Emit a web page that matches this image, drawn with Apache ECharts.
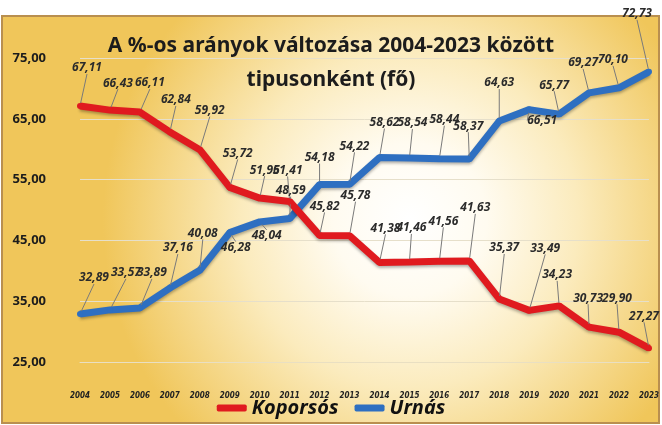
<!DOCTYPE html>
<html>
<head>
<meta charset="utf-8">
<script src="https://cdn.jsdelivr.net/npm/echarts@6/dist/echarts.min.js"></script>
<style>
  html, body { margin: 0; padding: 0; background: #fff; }
  #chart { width: 662px; height: 425px; }
</style>
</head>
<body>
<div id="chart"></div>
<script>
// évek és a két típus aránya (%)
const years = ['2004', '2005', '2006', '2007', '2008', '2009', '2010', '2011', '2012', '2013',
               '2014', '2015', '2016', '2017', '2018', '2019', '2020', '2021', '2022', '2023'];
const koporsos = [67.11, 66.43, 66.11, 62.84, 59.92, 53.72, 51.96, 51.41, 45.82, 45.78,
                  41.38, 41.46, 41.56, 41.63, 35.37, 33.49, 34.23, 30.73, 29.90, 27.27];
const urnas = [32.89, 33.57, 33.89, 37.16, 40.08, 46.28, 48.04, 48.59, 54.18, 54.22,
               58.62, 58.54, 58.44, 58.37, 64.63, 66.51, 65.77, 69.27, 70.10, 72.73];
const yTicks = [25, 35, 45, 55, 65, 75];

// címkék eltolása a pont fölötti alaphelyzethez képest [dx, dy]
const redShift = [[7,-24],[8,-13],[10,-15],[6,-18],[10,-25],[8,-20],[5,-14],[-2,-17],[5,-15],[6,-26],
                  [6,-20],[2,-20],[4,-26],[6,-39],[5,-37],[16,-48],[-2,-17],[-1,-15],[-2,-20],[-5,-18]];
const blueShift = [[14,-22],[16,-23],[12,-21],[8,-26],[3,-23],[6,29],[7,28],[1,-14],[0,-13],[5,-24],
                   [5,-21],[3,-21],[5,-25],[-1,-19],[0,-24],[13,25],[-5,-15],[-6,-16],[-6,-14],[-12,-44]];

const fmt = v => Number(v).toFixed(2).replace('.', ',');

const chart = echarts.init(document.getElementById('chart'));

const labelStyle = {
    show: true,
    position: 'top',
    distance: 5,
    formatter: p => fmt(p.value),
    fontFamily: 'Noto Sans',
    fontStyle: 'italic',
    fontWeight: 'bold',
    fontSize: 12,
    color: '#2b2b2b'
};

const option = {
    animation: false,
    graphic: [{
        type: 'rect',
        z: -10,
        silent: true,
        shape: { x: 2, y: 16, width: 657, height: 407 },
        style: {
            fill: new echarts.graphic.RadialGradient(0.62, 0.5, 0.75, [
                { offset: 0, color: '#ffffff' },
                { offset: 0.25, color: '#fffbf0' },
                { offset: 0.55, color: '#fbebbd' },
                { offset: 1, color: '#f0c65a' }
            ]),
            stroke: '#b98f4f',
            lineWidth: 2
        }
    }],
    title: {
        text: 'A %-os arányok változása 2004-2023 között\ntipusonként (fő)',
        left: 'center',
        top: 24,
        textStyle: {
            fontFamily: 'Noto Sans',
            fontWeight: 'bold',
            fontSize: 21,
            lineHeight: 34,
            color: '#1c1c1c'
        }
    },
    legend: {
        bottom: 2,
        left: 'center',
        data: ['Koporsós', 'Urnás'],
        icon: 'roundRect',
        itemWidth: 30,
        itemHeight: 7,
        itemGap: 16,
        textStyle: {
            fontFamily: 'Noto Sans',
            fontStyle: 'italic',
            fontWeight: 'bold',
            fontSize: 20,
            color: '#111'
        }
    },
    grid: { left: 80, right: 10, top: 58, bottom: 63 },
    xAxis: {
        type: 'category',
        data: years,
        boundaryGap: false,
        axisLine: { lineStyle: { color: '#e9dfc2' } },
        axisTick: { show: false },
        axisLabel: {
            interval: 0,
            margin: 30,
            fontFamily: 'DejaVu Sans Condensed',
            fontStyle: 'italic',
            fontWeight: 'bold',
            fontSize: 8,
            color: '#222'
        }
    },
    yAxis: {
        type: 'value',
        min: yTicks[0],
        max: yTicks[yTicks.length - 1],
        interval: 10,
        axisLine: { show: false },
        axisTick: { show: false },
        splitLine: { lineStyle: { color: '#e6dfca', width: 1 } },
        axisLabel: {
            margin: 34,
            formatter: v => fmt(v),
            fontFamily: 'Noto Sans',
            fontWeight: 'bold',
            fontSize: 13,
            color: '#1c1c1c'
        }
    },
    series: [
        {
            name: 'Urnás',
            type: 'line',
            data: urnas,
            symbol: 'circle',
            symbolSize: 6,
            itemStyle: { color: '#2e6fc1' },
            lineStyle: {
                width: 7, color: '#2e6fc1',
                shadowColor: 'rgba(0,0,0,0.3)', shadowBlur: 3, shadowOffsetY: 2
            },
            label: labelStyle,
            labelLine: { show: true, lineStyle: { color: '#7a7a7a', width: 1 } },
            labelLayout: p => ({ dx: blueShift[p.dataIndex][0], dy: blueShift[p.dataIndex][1] })
        },
        {
            name: 'Koporsós',
            type: 'line',
            data: koporsos,
            symbol: 'circle',
            symbolSize: 6,
            itemStyle: { color: '#e01a1f' },
            lineStyle: {
                width: 7, color: '#e01a1f',
                shadowColor: 'rgba(0,0,0,0.3)', shadowBlur: 3, shadowOffsetY: 2
            },
            label: labelStyle,
            labelLine: { show: true, lineStyle: { color: '#7a7a7a', width: 1 } },
            labelLayout: p => ({ dx: redShift[p.dataIndex][0], dy: redShift[p.dataIndex][1] })
        }
    ]
};

chart.setOption(option);
</script>
</body>
</html>
